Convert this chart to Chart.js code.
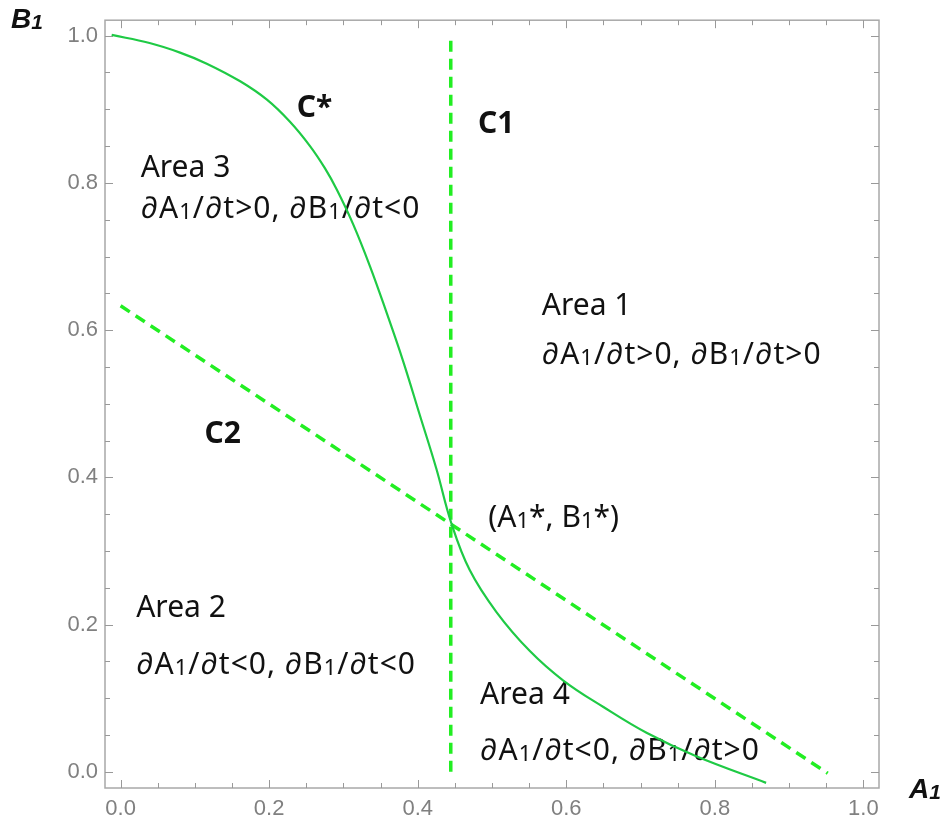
<!DOCTYPE html>
<html>
<head>
<meta charset="utf-8">
<script src="https://cdn.jsdelivr.net/npm/chart.js@4.4.0/dist/chart.umd.min.js"></script>
<style>
  body { margin: 0; background: #fff; }
  #wrap { width: 949px; height: 825px; }
</style>
</head>
<body>
<div id="wrap"><canvas id="phase" width="949" height="825"></canvas></div>
<script>
// C* curve (solid)
var cStarA = [-0.012, 0.039, 0.080, 0.116, 0.161, 0.197, 0.228, 0.255, 0.275, 0.291, 0.313, 0.336, 0.358, 0.380, 0.403, 0.425, 0.4455, 0.470, 0.506, 0.551, 0.596, 0.650, 0.708, 0.775, 0.869];
var cStarB = [1.001, 0.990, 0.977, 0.962, 0.938, 0.913, 0.883, 0.850, 0.820, 0.791, 0.744, 0.686, 0.624, 0.559, 0.484, 0.412, 0.337, 0.274, 0.217, 0.164, 0.124, 0.088, 0.053, 0.021, -0.015];

// C1 (vertical dashed) and C2 (sloped dashed)
var c1A = [0.4445, 0.4445];
var c1B = [0.0, 1.0];
var c2A = [0.0, 0.952];
var c2B = [0.633, -0.002];

// axis ticks
var majorTicks = [0.0, 0.2, 0.4, 0.6, 0.8, 1.0];
var minorTicks = [0.05, 0.1, 0.15, 0.25, 0.3, 0.35, 0.45, 0.5, 0.55, 0.65, 0.7, 0.75, 0.85, 0.9, 0.95];

// text labels placed in data coordinates (left, baseline)
var labels = [
  { t: 'C*', a: 0.237, b: 0.889, bold: true },
  { t: 'C1', a: 0.481, b: 0.868, bold: true },
  { t: 'C2', a: 0.113, b: 0.447, bold: true },
  { t: 'Area 3', a: 0.027, b: 0.808 },
  { t: '∂A₁/∂t>0, ∂B₁/∂t<0', a: 0.027, b: 0.752, f: true },
  { t: 'Area 1', a: 0.567, b: 0.620 },
  { t: '∂A₁/∂t>0, ∂B₁/∂t>0', a: 0.567, b: 0.554, f: true },
  { t: '(A₁*, B₁*)', a: 0.495, b: 0.332 },
  { t: 'Area 2', a: 0.021, b: 0.210 },
  { t: '∂A₁/∂t<0, ∂B₁/∂t<0', a: 0.021, b: 0.133, f: true },
  { t: 'Area 4', a: 0.484, b: 0.092 },
  { t: '∂A₁/∂t<0, ∂B₁/∂t>0', a: 0.484, b: 0.016, f: true }
];

var textFont = '"Noto Sans", "Open Sans", sans-serif';

// draws text, with each '₁' shown as a smaller 1 on the baseline
function drawSub(ctx, text, x, y, size, pre, family) {
  var parts = text.split('₁');
  parts.forEach(function(p, i) {
    ctx.font = pre + size + 'px ' + family;
    ctx.fillText(p, x, y);
    x += ctx.measureText(p).width;
    if (i < parts.length - 1) {
      ctx.font = pre + Math.round(size * 0.74) + 'px ' + family;
      ctx.fillText('1', x, y + 1);
      x += ctx.measureText('1').width;
    }
  });
}

var frameTicks = {
  id: 'frameTicks',
  beforeDatasetsDraw: function(chart) {
    var ctx = chart.ctx, area = chart.chartArea;
    var xs = chart.scales.x, ys = chart.scales.y;
    ctx.save();
    ctx.strokeStyle = '#a8a8a8';
    ctx.lineWidth = 1.5;
    ctx.strokeRect(area.left, area.top, area.right - area.left, area.bottom - area.top);
    ctx.lineWidth = 1;
    ctx.strokeStyle = '#999';
    function mark(v, len) {
      var px = Math.round(xs.getPixelForValue(v)) + 0.5;
      var py = Math.round(ys.getPixelForValue(v)) + 0.5;
      ctx.beginPath();
      ctx.moveTo(px, area.bottom); ctx.lineTo(px, area.bottom - len);
      ctx.moveTo(px, area.top); ctx.lineTo(px, area.top + len);
      ctx.moveTo(area.left, py); ctx.lineTo(area.left + len, py);
      ctx.moveTo(area.right, py); ctx.lineTo(area.right - len, py);
      ctx.stroke();
    }
    majorTicks.forEach(function(v) { mark(v, 8); });
    minorTicks.forEach(function(v) { mark(v, 5); });

    // region labels
    ctx.fillStyle = '#111';
    ctx.textBaseline = 'alphabetic';
    ctx.textAlign = 'left';
    labels.forEach(function(l) {
      ctx.letterSpacing = l.f ? '1px' : '0px';
      drawSub(ctx, l.t, xs.getPixelForValue(l.a), ys.getPixelForValue(l.b),
        30, l.bold ? 'bold ' : '', textFont);
    });
    ctx.letterSpacing = '0px';

    // axis names
    drawSub(ctx, 'B₁', 11, 28, 28, 'italic bold ', '"Liberation Sans", Arial, sans-serif');
    drawSub(ctx, 'A₁', 909, 798, 28, 'italic bold ', '"Liberation Sans", Arial, sans-serif');
    ctx.restore();
  }
};

var ctx = document.getElementById('phase').getContext('2d');
var chart = new Chart(ctx, {
  type: 'scatter',
  data: {
    datasets: [
      {
        label: 'C*',
        data: cStarA.map(function(a, i) { return { x: a, y: cStarB[i] }; }),
        showLine: true,
        borderColor: '#1fca45',
        borderWidth: 2.2,
        pointRadius: 0,
        tension: 0.4
      },
      {
        label: 'C1',
        data: c1A.map(function(a, i) { return { x: a, y: c1B[i] }; }),
        showLine: true,
        borderColor: '#22ee22',
        borderWidth: 3.5,
        borderDash: [11, 7],
        pointRadius: 0
      },
      {
        label: 'C2',
        data: c2A.map(function(a, i) { return { x: a, y: c2B[i] }; }),
        showLine: true,
        borderColor: '#22ee22',
        borderWidth: 3.5,
        borderDash: [11, 7],
        pointRadius: 0
      }
    ]
  },
  options: {
    responsive: false,
    animation: false,
    layout: { padding: { top: 14, right: 70, left: 0, bottom: 0 } },
    plugins: {
      legend: { display: false },
      tooltip: { enabled: false }
    },
    scales: {
      x: {
        type: 'linear',
        min: -0.021,
        max: 1.021,
        grid: { display: false, drawTicks: false },
        border: { display: false },
        afterBuildTicks: function(s) { s.ticks = majorTicks.map(function(v) { return { value: v }; }); },
        afterFit: function(s) { s.height = 37; },
        ticks: {
          color: '#808080',
          padding: 8,
          font: { family: '"Liberation Sans", Arial, sans-serif', size: 22 },
          callback: function(v) { return Number(v).toFixed(1); }
        }
      },
      y: {
        type: 'linear',
        min: -0.022,
        max: 1.021,
        grid: { display: false, drawTicks: false },
        border: { display: false },
        afterBuildTicks: function(s) { s.ticks = majorTicks.map(function(v) { return { value: v }; }); },
        afterFit: function(s) { s.width = 105; },
        ticks: {
          color: '#808080',
          padding: 7,
          font: { family: '"Liberation Sans", Arial, sans-serif', size: 22 },
          callback: function(v) { return Number(v).toFixed(1); }
        }
      }
    }
  },
  plugins: [frameTicks]
});
</script>
</body>
</html>
